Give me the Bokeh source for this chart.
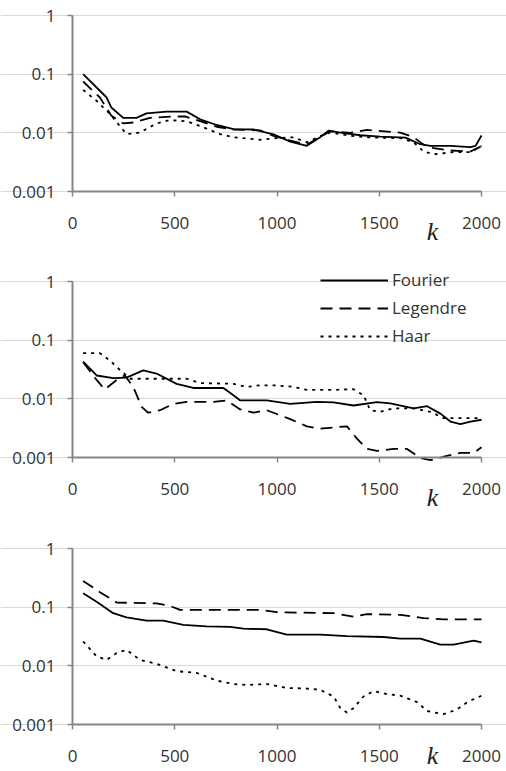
from bokeh.plotting import figure
from bokeh.models import FixedTicker, Legend, LegendItem, Label, Range1d
from bokeh.layouts import column
from bokeh.embed import file_html
from bokeh.resources import INLINE

x_ticks = [0, 500, 1000, 1500, 2000]
y_ticks = [0.001, 0.01, 0.1, 1]
y_tick_labels = ["0.001", "0.01", "0.1", "1"]
series_names = ["Fourier", "Legendre", "Haar"]
x_label = "k"

# ---- panel 1 ----
k1_fourier = [52, 167, 190, 248, 313, 362, 460, 558, 624, 705, 787, 885, 983, 1065, 1146, 1211, 1252, 1310, 1407, 1505, 1628, 1701, 1750, 1848, 1946, 1971, 2000]
v1_fourier = [0.1, 0.04, 0.027, 0.018, 0.018, 0.0215, 0.023, 0.023, 0.017, 0.0136, 0.0116, 0.0114, 0.0094, 0.0071, 0.006, 0.0084, 0.0109, 0.0101, 0.0091, 0.0086, 0.0083, 0.0064, 0.006, 0.006, 0.0057, 0.006, 0.009]
k1_legendre = [52, 134, 190, 248, 297, 379, 493, 550, 624, 705, 787, 918, 983, 1065, 1146, 1211, 1260, 1358, 1440, 1603, 1668, 1717, 1766, 1848, 1946, 2000]
v1_legendre = [0.075, 0.04, 0.0196, 0.0145, 0.015, 0.018, 0.019, 0.019, 0.0158, 0.0127, 0.0114, 0.011, 0.0089, 0.0074, 0.0063, 0.0085, 0.0106, 0.01, 0.0112, 0.0101, 0.0084, 0.0063, 0.0055, 0.005, 0.0048, 0.0059]
k1_haar = [52, 118, 183, 264, 330, 411, 477, 558, 640, 722, 787, 918, 1000, 1081, 1146, 1211, 1260, 1358, 1440, 1603, 1668, 1717, 1766, 1864, 1946, 2000]
v1_haar = [0.054, 0.035, 0.021, 0.0095, 0.0101, 0.0145, 0.0165, 0.0158, 0.0124, 0.0095, 0.0084, 0.0076, 0.0081, 0.0084, 0.0069, 0.0088, 0.0101, 0.0089, 0.0084, 0.0081, 0.0069, 0.0048, 0.0043, 0.0047, 0.0047, 0.006]

# ---- panel 2 ----
k2_fourier = [52, 118, 199, 264, 346, 411, 509, 591, 738, 787, 820, 950, 1065, 1195, 1277, 1374, 1489, 1554, 1668, 1734, 1799, 1848, 1897, 1946, 2000]
v2_fourier = [0.043, 0.025, 0.0226, 0.023, 0.0306, 0.027, 0.018, 0.0153, 0.0153, 0.0115, 0.0094, 0.0094, 0.0082, 0.0089, 0.0087, 0.0077, 0.0088, 0.0084, 0.0069, 0.0075, 0.0056, 0.0041, 0.0037, 0.0041, 0.0044]
k2_legendre = [52, 118, 158, 216, 256, 297, 338, 370, 428, 493, 558, 689, 754, 820, 885, 950, 1065, 1146, 1211, 1342, 1391, 1440, 1489, 1570, 1636, 1701, 1750, 1815, 1897, 1962, 2000]
v2_legendre = [0.042, 0.021, 0.0144, 0.021, 0.025, 0.016, 0.0073, 0.0058, 0.0064, 0.0082, 0.0089, 0.0089, 0.0094, 0.0066, 0.0058, 0.0064, 0.0045, 0.0034, 0.0031, 0.0034, 0.0021, 0.0014, 0.0013, 0.0014, 0.0014, 0.00098, 0.0009, 0.00103, 0.0012, 0.0012, 0.0015]
k2_haar = [52, 134, 183, 232, 281, 330, 558, 624, 787, 852, 918, 983, 1081, 1146, 1277, 1374, 1423, 1456, 1505, 1570, 1668, 1750, 1815, 1897, 2000]
v2_haar = [0.06, 0.06, 0.045, 0.031, 0.022, 0.022, 0.022, 0.0186, 0.018, 0.016, 0.017, 0.017, 0.016, 0.0142, 0.0142, 0.0146, 0.0115, 0.0064, 0.006, 0.0069, 0.0069, 0.006, 0.0047, 0.0047, 0.0047]

# ---- panel 3 ----
k3_fourier = [52, 118, 199, 264, 362, 444, 542, 656, 771, 836, 950, 1048, 1211, 1342, 1521, 1603, 1701, 1799, 1864, 1962, 2000]
v3_fourier = [0.172, 0.124, 0.079, 0.067, 0.059, 0.059, 0.05, 0.047, 0.046, 0.043, 0.042, 0.034, 0.034, 0.032, 0.031, 0.029, 0.029, 0.0229, 0.0229, 0.027, 0.025]
k3_legendre = [52, 134, 216, 411, 477, 526, 918, 999, 1277, 1374, 1440, 1603, 1717, 1815, 2000]
v3_legendre = [0.28, 0.18, 0.12, 0.116, 0.105, 0.09, 0.09, 0.082, 0.079, 0.069, 0.076, 0.074, 0.065, 0.062, 0.062]
k3_haar = [52, 118, 167, 216, 264, 330, 411, 509, 607, 705, 787, 852, 950, 1048, 1146, 1211, 1277, 1310, 1342, 1374, 1423, 1472, 1538, 1603, 1685, 1734, 1815, 1880, 1930, 2000]
v3_haar = [0.026, 0.0145, 0.0126, 0.0166, 0.0187, 0.0126, 0.0108, 0.0081, 0.0076, 0.0056, 0.0049, 0.0047, 0.0049, 0.0042, 0.0041, 0.0039, 0.003, 0.0019, 0.0016, 0.0019, 0.003, 0.0037, 0.0033, 0.0031, 0.0024, 0.0017, 0.0015, 0.0018, 0.0024, 0.0031]

panels = [
    [(k1_fourier, v1_fourier), (k1_legendre, v1_legendre), (k1_haar, v1_haar)],
    [(k2_fourier, v2_fourier), (k2_legendre, v2_legendre), (k2_haar, v2_haar)],
    [(k3_fourier, v3_fourier), (k3_legendre, v3_legendre), (k3_haar, v3_haar)],
]

dashes = ["solid", "12 7", "3 5"]
FONT = "Open Sans"
TXT = "#333333"
AX = "#868686"
WIDTH = 506
LEFT = 72            # pixels left of x = 0
PLOT_W = 409.0       # pixels between x = 0 and x = 2000
SPAN = 176.0         # pixels between 1 and 0.001
DEC = SPAN / 3.0     # pixels per decade
XS = 2000.0 / PLOT_W


def make_panel(height, top_px, data, k_offset, with_legend=False, legend_bottom=0):
    below_px = height - top_px - SPAN
    y_start = 10 ** (-3 - below_px / DEC)
    y_end = 10 ** (top_px / DEC)
    x_start = -LEFT * XS
    x_end = (WIDTH - LEFT) * XS
    p = figure(width=WIDTH, height=height, x_range=Range1d(x_start, x_end),
               y_range=Range1d(y_start, y_end),
               y_axis_type="log", output_backend="svg", toolbar_location=None,
               min_border=0)
    p.outline_line_color = None
    p.background_fill_color = "white"
    p.border_fill_color = "white"
    p.xgrid.visible = False
    p.ygrid.grid_line_color = "#d9d9d9"
    p.ygrid.grid_line_width = 1
    p.ygrid.ticker = FixedTicker(ticks=y_ticks)
    p.ygrid.bounds = (x_ticks[0], x_ticks[-1])

    p.xaxis.ticker = FixedTicker(ticks=x_ticks)
    p.xaxis.fixed_location = y_ticks[0]
    p.xaxis.bounds = (x_ticks[0], x_ticks[-1])
    p.yaxis.ticker = FixedTicker(ticks=y_ticks)
    p.yaxis.fixed_location = x_ticks[0]
    p.yaxis.bounds = (y_ticks[0], y_ticks[-1])
    p.yaxis.major_label_overrides = {t: l for t, l in zip(y_ticks, y_tick_labels)}
    for ax in (p.xaxis, p.yaxis):
        ax.axis_line_color = AX
        ax.axis_line_width = 2
        ax.major_tick_line_color = AX
        ax.major_tick_line_width = 1.5
        ax.major_tick_out = 5
        ax.major_tick_in = 0
        ax.minor_tick_line_color = None
        ax.major_label_text_font = FONT
        ax.major_label_text_font_size = "17px"
        ax.major_label_text_color = TXT
    p.yaxis.major_label_standoff = 12
    p.xaxis.major_label_standoff = 20

    renderers = []
    for (kk, vv), d in zip(data, dashes):
        r = p.line(kk, vv, line_color="black", line_width=1.8, line_dash=d,
                   line_join="round")
        renderers.append(r)

    p.add_layout(Label(x=1760, y=10 ** (-3 - k_offset / DEC), text=x_label,
                       text_font="Liberation Serif",
                       text_font_style="italic", text_font_size="26px",
                       text_color="#222222", text_align="center",
                       text_baseline="middle"))

    if with_legend:
        items = [LegendItem(label=n, renderers=[r]) for n, r in zip(series_names, renderers)]
        leg = Legend(items=items, location=(320, legend_bottom), padding=0, margin=0,
                     spacing=5, glyph_width=68, glyph_height=20, label_height=20,
                     label_standoff=4, label_text_font=FONT,
                     label_text_font_size="17px", label_text_color=TXT,
                     background_fill_alpha=0, border_line_alpha=0)
        p.add_layout(leg)
    return p


p1 = make_panel(258, 15, panels[0], 40)
p2 = make_panel(267, 23, panels[1], 40, with_legend=True, legend_bottom=178)
p3 = make_panel(246, 23, panels[2], 31)

layout = column(p1, p2, p3, spacing=0)
open("out.html", "w").write(file_html(layout, INLINE))
